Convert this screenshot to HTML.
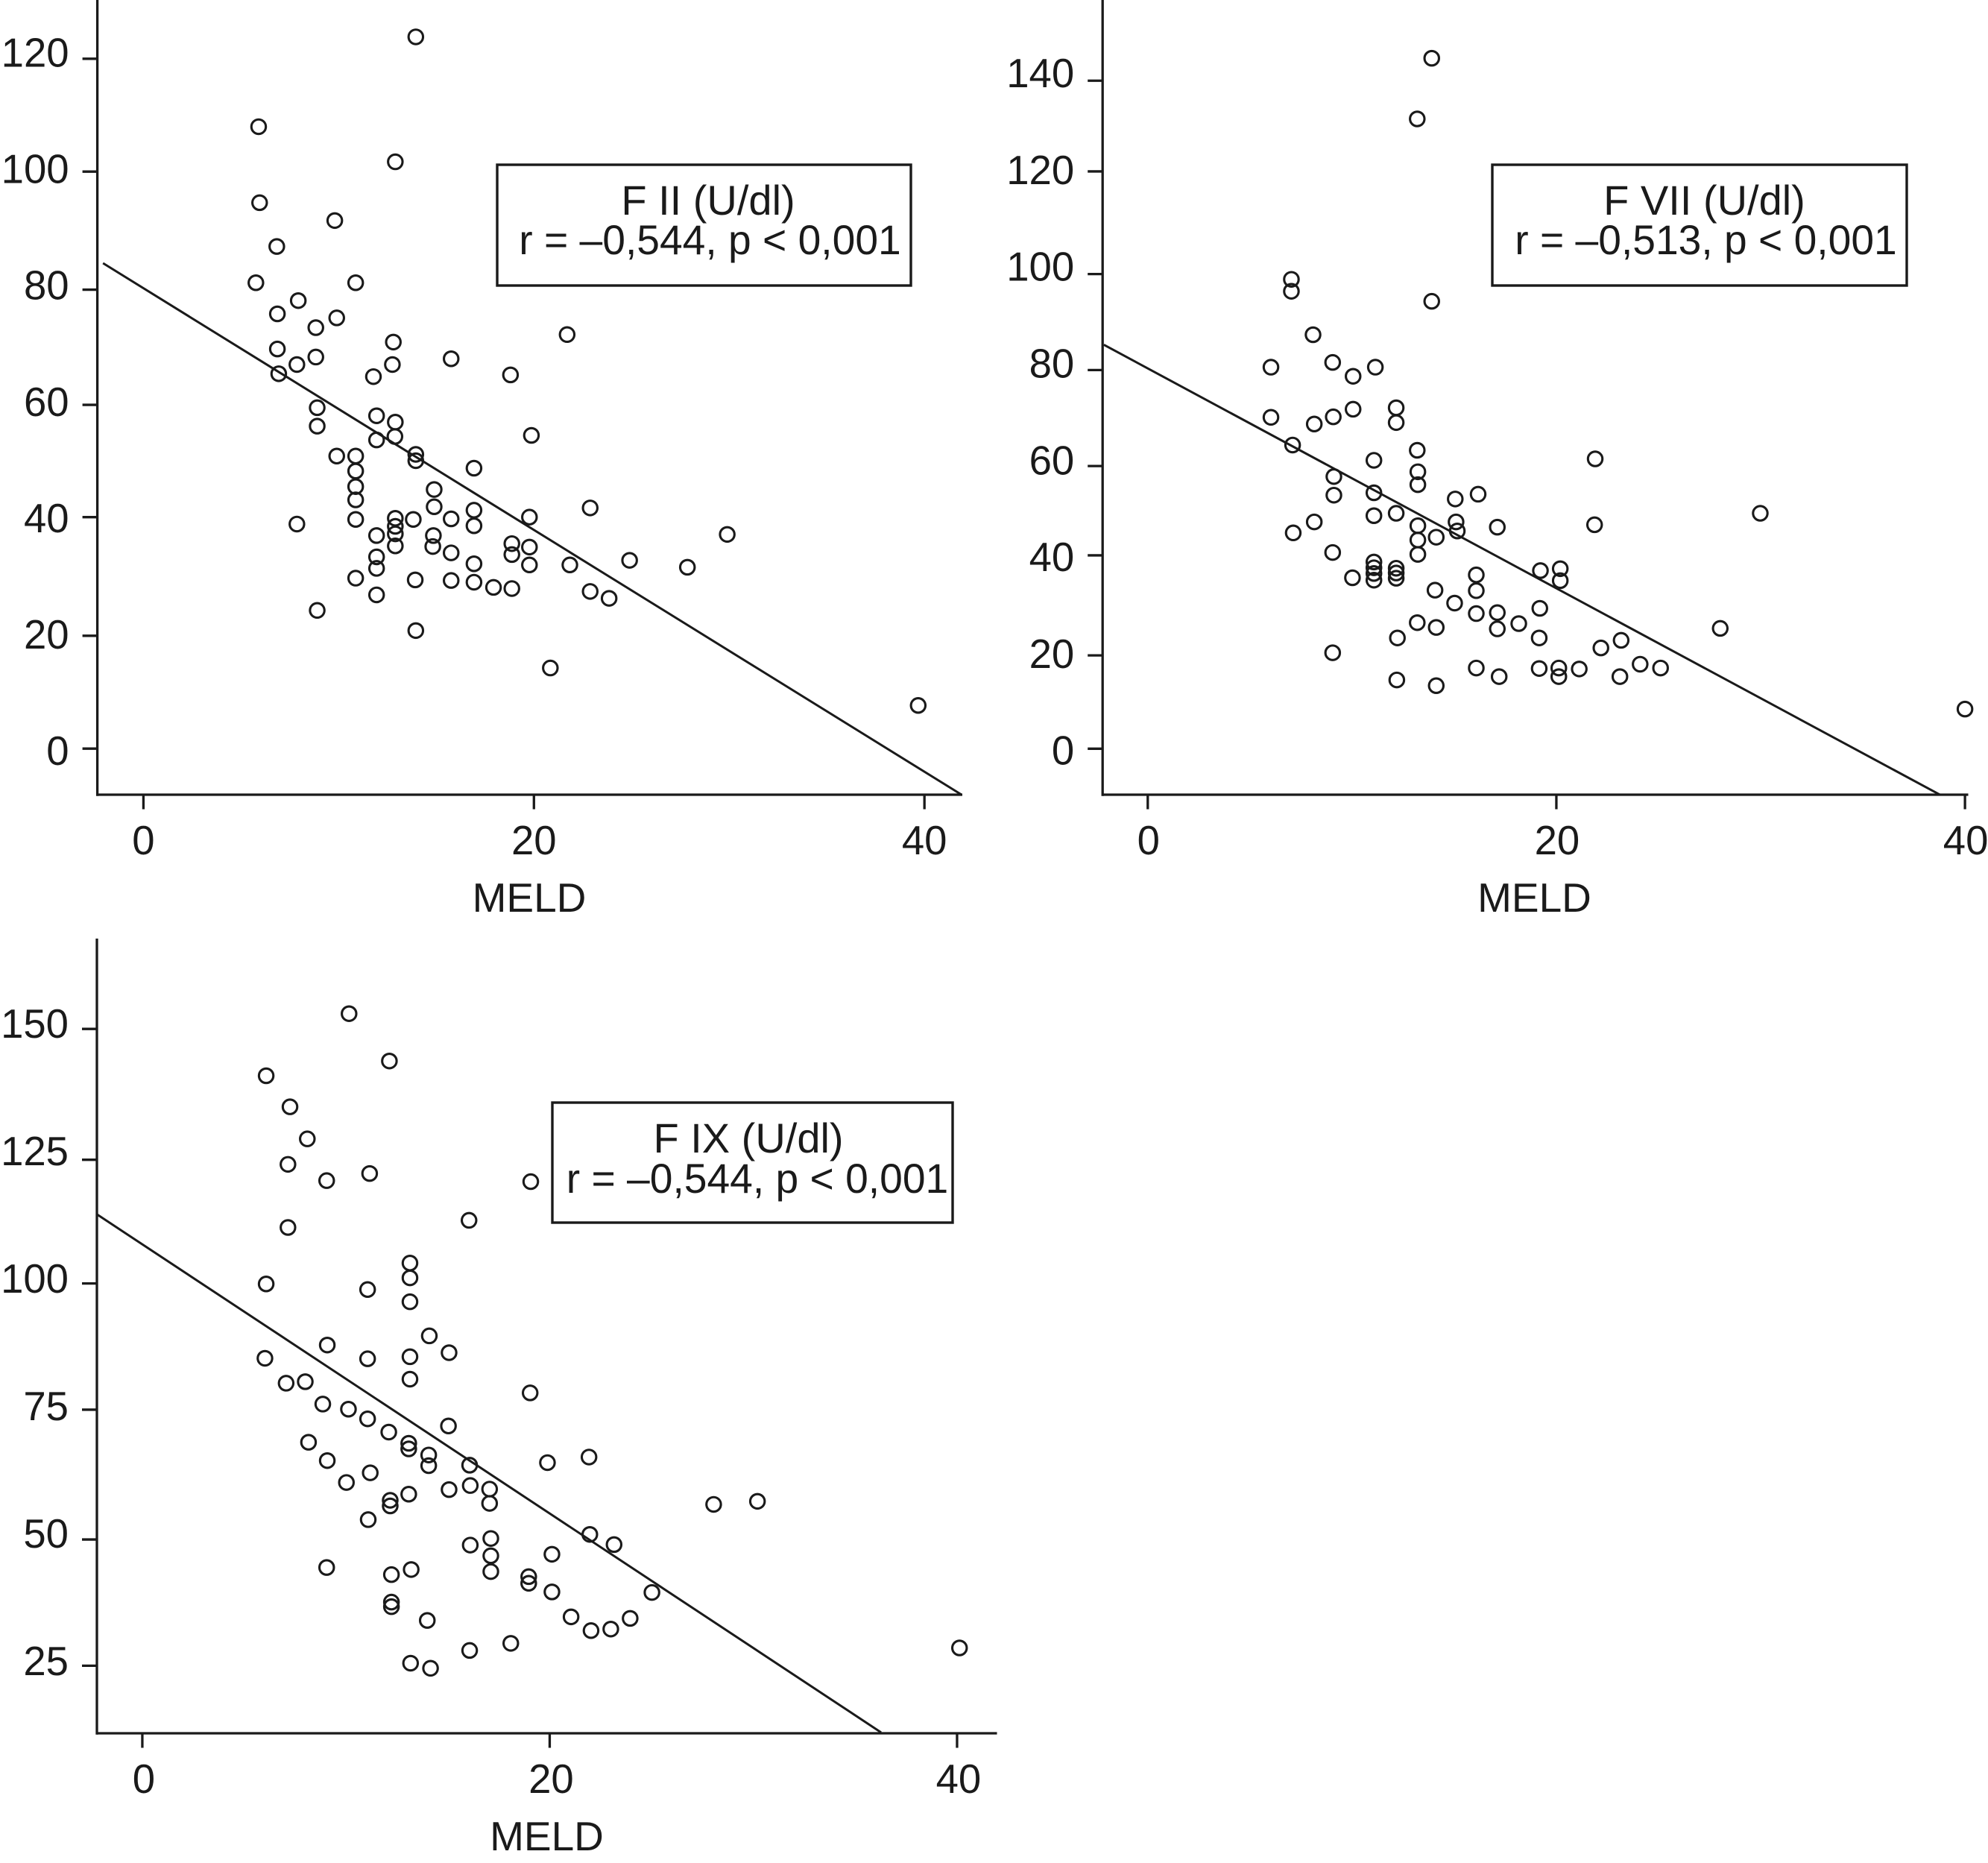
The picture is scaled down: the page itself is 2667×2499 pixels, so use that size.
<!DOCTYPE html>
<html lang="en">
<head>
<meta charset="utf-8">
<title>Coagulation factors vs MELD</title>
<style>
html,body{margin:0;padding:0;background:#fff;width:2667px;height:2499px;overflow:hidden}
svg{display:block}
text{font-family:"Liberation Sans",sans-serif;fill:#1a1a1a;font-size:54.5px}
.axis-title{font-size:55px}
.box-title{font-size:56px}
.box-text{font-size:55.2px}
</style>
</head>
<body>
<svg id="chart" xmlns="http://www.w3.org/2000/svg" width="2667" height="2499" viewBox="0 0 2667 2499">
  <rect width="2667" height="2499" fill="#fff"/>
  <g id="panels"></g>
  <g>
    <rect x="667" y="221" width="555" height="162" fill="#fff" stroke="#1a1a1a" stroke-width="3.4"/>
    <text class="box-title" x="950" y="288" text-anchor="middle">F II (U/dl)</text>
    <text class="box-text" x="952.5" y="341" text-anchor="middle">r = –0,544, p &lt; 0,001</text>
  </g>
  <g>
    <rect x="2002" y="221" width="556" height="162" fill="#fff" stroke="#1a1a1a" stroke-width="3.4"/>
    <text class="box-title" x="2286.5" y="288" text-anchor="middle">F VII (U/dl)</text>
    <text class="box-text" x="2288.5" y="341" text-anchor="middle">r = –0,513, p &lt; 0,001</text>
  </g>
  <g>
    <rect x="741" y="1479" width="537" height="161" fill="#fff" stroke="#1a1a1a" stroke-width="3.4"/>
    <text class="box-title" x="1004" y="1546" text-anchor="middle">F IX (U/dl)</text>
    <text class="box-text" x="1016" y="1600" text-anchor="middle">r = –0,544, p &lt; 0,001</text>
  </g>
</svg>
<script>
const xTicks = [0, 20, 40];

const fiiYTickLabels = [0, 20, 40, 60, 80, 100, 120];
const fiiYTickMarks = [0, 19.6, 40.2, 59.7, 79.7, 100.2, 119.8];
const fiiMeld = [13.95,5.9,12.9,5.95,9.8,6.83,5.76,10.87,7.93,6.86,9.9,8.83,12.8,21.7,6.86,8.83,7.86,12.75,15.76,6.93,11.78,18.8,8.9,11.94,12.9,8.9,12.88,11.94,19.87,9.9,10.87,13.95,13.95,16.93,10.87,10.87,14.89,10.87,14.89,16.93,22.88,10.87,12.9,13.82,15.76,19.77,7.86,16.93,12.9,12.9,11.94,14.85,29.9,18.87,12.9,14.82,19.77,15.76,18.87,11.94,24.9,16.93,19.77,21.84,11.94,27.86,10.87,13.92,15.76,16.93,17.93,18.87,22.88,11.94,23.85,8.9,13.95,20.84,39.68];
const fiiValues = [123.6,108,101.9,94.8,91.7,87.2,80.9,80.9,77.8,75.5,74.8,73.1,70.6,71.9,69.4,68,66.7,66.7,67.7,65.1,64.6,64.9,59.2,57.8,56.7,56,54.2,53.6,54.4,50.8,50.8,51.1,50,48.7,48.2,45.5,45,43.2,42,41.4,41.8,39.8,40,39.8,39.9,40.2,39,38.7,38.6,37.3,37,37,37.2,35.6,35.2,35.1,35,34,33.7,33.3,32.7,32.1,31.9,31.9,31.3,31.5,29.6,29.3,29.2,28.9,28,27.8,27.3,26.7,26.1,24,20.5,14,7.5];
const fiiFitMeld = [-2.07, 41.9];
const fiiFitValues = [84.3, -8.0];

const fviiYTickLabels = [0, 20, 40, 60, 80, 100, 120, 140];
const fviiYTickMarks = [0, 19.55, 40.5, 59.2, 79.3, 99.4, 120.9, 139.9];
const fviiMeld = [13.9,13.19,13.9,7.03,7.03,8.09,9.05,6.03,11.14,10.05,10.05,12.16,12.16,6.03,9.08,8.15,7.09,13.19,11.07,21.9,13.22,9.11,13.22,11.07,9.11,15.05,16.17,12.16,11.07,29.98,8.15,15.09,13.22,17.11,21.87,15.15,7.12,14.12,13.22,9.05,13.22,11.07,11.07,12.16,19.22,20.19,11.07,12.16,16.08,11.07,10.02,12.16,20.19,14.06,16.08,15.02,19.19,17.11,16.08,18.16,13.19,14.12,17.11,28.02,12.22,19.16,23.17,22.18,9.05,24.1,16.08,19.16,20.12,21.12,25.1,17.2,20.12,23.11,12.19,14.12,40];
const fviiValues = [144.6,131.9,93.7,98.3,95.8,86.7,80.9,79.9,79.9,78,71.1,71.4,68.3,69.4,69.5,68,63.6,62.5,60.4,60.7,58,57,55.3,53.6,53.1,52.3,53.3,49.3,48.8,49.3,47.5,47.5,46.7,46.4,46.9,45.6,45.2,44.3,43.7,41.1,40.7,39.1,37.9,37.8,37.3,37.7,36.7,36.8,36.4,35.3,35.8,35.7,35.2,33.2,33.1,30.5,29.4,28.5,28.3,26.2,26.4,25.4,25.1,25.2,23.2,23.2,22.7,21.1,20.1,17.7,16.9,16.8,16.9,16.7,16.9,15.1,15.1,15.1,14.4,13.2,8.3];
const fviiFitMeld = [-2.15, 38.76];
const fviiFitValues = [84.6, -9.6];

const fixYTickLabels = [25, 50, 75, 100, 125, 150];
const fixYTickMarks = [25, 49.8, 75.3, 100.1, 124.4, 150.1];
const fixMeld = [10.15,12.13,6.08,7.25,8.1,7.15,11.16,9.05,19.07,16.04,7.15,13.14,13.14,6.08,11.06,13.14,14.09,9.08,15.06,13.14,6.02,11.06,13.14,8,7.06,19.04,8.86,10.12,11.06,15.03,12.1,13.08,8.16,13.08,14.06,21.93,9.08,19.89,14.06,16.07,11.19,10.02,16.1,15.06,17.05,13.08,12.17,12.17,17.05,28.05,30.2,11.09,21.97,17.11,23.16,16.1,17.11,20.11,9.05,13.2,17.11,12.23,18.97,18.97,20.11,25.02,12.23,12.23,21.05,23.95,13.99,22.03,23,18.09,40.12,16.07,13.17,14.15];
const fixValues = [153.1,143.8,140.9,134.8,128.5,123.5,121.7,120.3,120.1,112.5,111.1,104.1,101.2,100,98.9,96.5,89.8,88,86.5,85.7,85.4,85.3,81.3,80.8,80.5,78.6,76.4,75.4,73.5,72.1,70.9,68.7,68.9,67.6,66.4,66,65.3,64.9,64.3,64.4,62.9,61,60.4,59.6,59.7,58.7,57.5,56.4,56.9,56.7,57.3,53.7,50.8,50,48.8,48.7,46.6,46.9,44.3,43.9,43.5,42.9,42.5,41.2,39.5,39.4,37.5,36.6,34.6,34.3,33.9,31.9,32.2,29.4,28.5,28,25.5,24.5];
const fixFitMeld = [-2.2, 36.27];
const fixFitValues = [113.6, 11.9];

const NS = 'http://www.w3.org/2000/svg';
const INK = '#1a1a1a';
const panelsRoot = document.getElementById('panels');

function makeLine(parent, x1, y1, x2, y2, width) {
  const el = document.createElementNS(NS, 'line');
  el.setAttribute('x1', x1);
  el.setAttribute('y1', y1);
  el.setAttribute('x2', x2);
  el.setAttribute('y2', y2);
  el.setAttribute('stroke', INK);
  el.setAttribute('stroke-width', width);
  parent.appendChild(el);
  return el;
}

function makeText(parent, x, y, anchor, content) {
  const el = document.createElementNS(NS, 'text');
  el.setAttribute('x', x);
  el.setAttribute('y', y);
  el.setAttribute('text-anchor', anchor);
  el.textContent = content;
  parent.appendChild(el);
  return el;
}

function drawPanel(p) {
  const g = document.createElementNS(NS, 'g');
  
  
  panelsRoot.appendChild(g);

  const xOf = v => p.left + (v - p.xMin) * (p.right - p.left) / (p.xMax - p.xMin);
  const yOf = v => p.bottom - (v - p.yMin) * (p.bottom - p.top) / (p.yMax - p.yMin);

  const yAxis = makeLine(g, p.left, p.top, p.left, p.bottom + 1.7, 3.3);
  
  

  const xAxis = makeLine(g, p.left, p.bottom, p.right, p.bottom, 3.3);
  
  

  p.yTickMarks.forEach((v, i) => {
    const tick = makeLine(g, p.left - 20, yOf(v), p.left, yOf(v), 3.3);
    
    
    const labelY = p.labelBase - p.yTickLabels[i] * p.labelUnit;
    const label = makeText(g, p.left - 38, labelY, 'end', String(p.yTickLabels[i]));
    
    
  });

  xTicks.forEach(v => {
    const tick = makeLine(g, xOf(v), p.bottom, xOf(v), p.bottom + 19.5, 3.3);
    
    
    const label = makeText(g, xOf(v) + p.xLabelShift, p.bottom + 80, 'middle', String(v));
    
    
  });

  const title = makeText(g, p.titleX, p.bottom + 157, 'middle', 'MELD');
  title.setAttribute('class', 'axis-title');
  
  

  const fit = makeLine(g, xOf(p.fitX[0]), yOf(p.fitY[0]), xOf(p.fitX[1]), yOf(p.fitY[1]), 3);
  
  

  p.xs.forEach((mx, i) => {
    const c = document.createElementNS(NS, 'circle');
    c.setAttribute('cx', xOf(mx));
    c.setAttribute('cy', yOf(p.ys[i]));
    c.setAttribute('r', 9.7);
    c.setAttribute('fill', 'none');
    c.setAttribute('stroke', INK);
    c.setAttribute('stroke-width', 3.1);
    
    
    g.appendChild(c);
  });
}

drawPanel({id:'f-ii', left:130.6, right:1291, top:0, bottom:1066, xMin:-2.36, xMax:41.94, yMin:-8, yMax:130, titleX:710,
  labelBase:1026, labelUnit:7.804, xLabelShift:0,
  yTickLabels:fiiYTickLabels, yTickMarks:fiiYTickMarks, xs:fiiMeld, ys:fiiValues, fitX:fiiFitMeld, fitY:fiiFitValues});
drawPanel({id:'f-vii', left:1479.2, right:2640.5, top:0, bottom:1066, xMin:-2.21, xMax:40.16, yMin:-9.63, yMax:156.8, titleX:2058.5,
  labelBase:1025.7, labelUnit:6.49, xLabelShift:1,
  yTickLabels:fviiYTickLabels, yTickMarks:fviiYTickMarks, xs:fviiMeld, ys:fviiValues, fitX:fviiFitMeld, fitY:fviiFitValues});
drawPanel({id:'f-ix', left:130, right:1337.5, top:1259, bottom:2325, xMin:-2.23, xMax:41.96, yMin:11.73, yMax:167.85, titleX:733.5,
  labelBase:2418, labelUnit:6.84, xLabelShift:2,
  yTickLabels:fixYTickLabels, yTickMarks:fixYTickMarks, xs:fixMeld, ys:fixValues, fitX:fixFitMeld, fitY:fixFitValues});
</script>
</body>
</html>
